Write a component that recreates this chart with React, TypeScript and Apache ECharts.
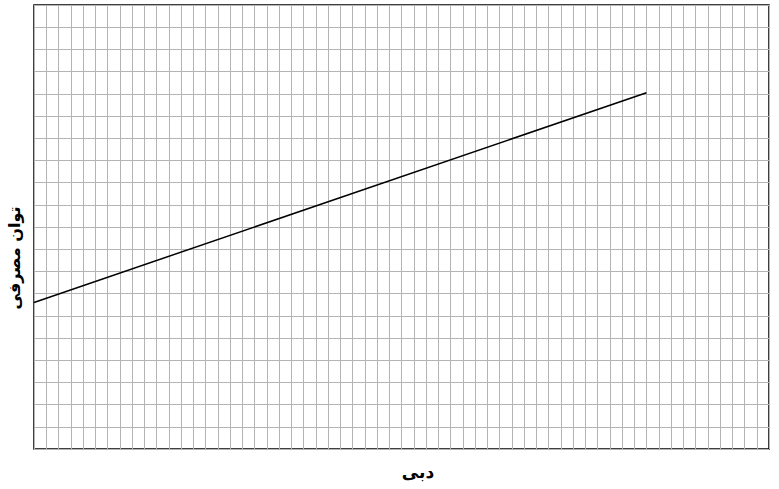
import { useEffect, useRef } from 'react'
import * as echarts from 'echarts'

// flow rate (x) vs power consumption (y), in grid units
const flowValues = [0, 50]
const powerValues = [6.6, 16.05]

const xName = 'دبی'
const yName = 'توان مصرفی'

export default function App() {
  const ref = useRef<HTMLDivElement>(null)

  useEffect(() => {
    if (!ref.current) return
    const chart = echarts.init(ref.current, undefined, { renderer: 'svg' })

    const gridLine = { show: true, lineStyle: { color: '#b4b4b4', width: 1 } }

    chart.setOption({
      animation: false,
      backgroundColor: '#fff',
      grid: {
        left: 34,
        right: 10,
        top: 5,
        bottom: 40,
        show: true,
        borderColor: '#000',
        borderWidth: 1.5,
      },
      xAxis: {
        type: 'value',
        min: 0,
        max: 60,
        interval: 1,
        axisLine: { show: false },
        axisTick: { show: false },
        axisLabel: { show: false },
        splitLine: gridLine,
      },
      yAxis: {
        type: 'value',
        min: 0,
        max: 20,
        interval: 1,
        axisLine: { show: false },
        axisTick: { show: false },
        axisLabel: { show: false },
        splitLine: gridLine,
      },
      graphic: [
        {
          type: 'text',
          x: 418,
          y: 472,
          style: {
            text: xName,
            font: 'bold 17px "DejaVu Sans", sans-serif',
            fill: '#000',
            align: 'center',
            verticalAlign: 'middle',
          },
        },
        {
          type: 'text',
          x: 14,
          y: 258,
          rotation: Math.PI / 2,
          style: {
            text: yName,
            font: 'bold 16px "DejaVu Sans", sans-serif',
            fill: '#000',
            align: 'center',
            verticalAlign: 'middle',
          },
        },
      ],
      series: [
        {
          type: 'line',
          data: flowValues.map((x, i) => [x, powerValues[i]]),
          showSymbol: false,
          lineStyle: { color: '#000', width: 1.5 },
        },
      ],
    })

    const onResize = () => chart.resize()
    window.addEventListener('resize', onResize)
    return () => {
      window.removeEventListener('resize', onResize)
      chart.dispose()
    }
  }, [])

  return (
    <div
      ref={ref}
      style={{ position: 'fixed', left: 0, top: 0, width: '100vw', height: '100vh' }}
    />
  )
}
